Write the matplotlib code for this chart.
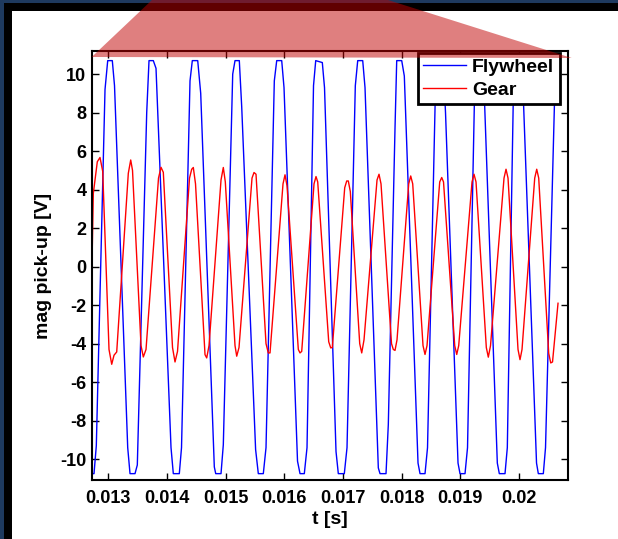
import matplotlib
matplotlib.use('Agg')
import matplotlib.pyplot as plt
from matplotlib.patches import Rectangle, Polygon
import numpy as np

plt.rcParams['font.family'] = ['Liberation Sans', 'DejaVu Sans']
plt.rcParams['font.weight'] = 'bold'
plt.rcParams['axes.unicode_minus'] = False

# flywheel pick-up (clipped), vertex times in ms and volts
fly_t_ms = [12.7051, 12.7563, 12.7955, 12.9438, 12.9898, 13.0682, 13.1057, 13.3307,
            13.3699, 13.4551, 13.4943, 13.6545, 13.6937, 13.7670, 13.8130, 14.0687,
            14.1079, 14.2102, 14.2477, 14.3925, 14.4317, 14.5238, 14.5749, 14.8067,
            14.8306, 14.9209, 14.9601, 15.1203, 15.1595, 15.2328, 15.2737, 15.5106,
            15.5567, 15.6419, 15.6879, 15.8294, 15.8703, 15.9555, 15.9947, 16.2248,
            16.2674, 16.3407, 16.3867, 16.4975, 16.5350, 16.6475, 16.6850, 16.8810,
            16.9202, 17.0225, 17.0685, 17.2100, 17.2509, 17.3361, 17.3753, 17.6020,
            17.6310, 17.7332, 17.7724, 17.8866, 17.9156, 18.0009, 18.0452, 18.2787,
            18.3128, 18.3980, 18.4406, 18.5770, 18.6111, 18.7048, 18.7474, 18.9605,
            18.9945, 19.0798, 19.1224, 19.2451, 19.2758, 19.3780, 19.4155, 19.6303,
            19.6644, 19.7615, 19.8007, 19.9064, 19.9405, 20.0428, 20.0769, 20.2985,
            20.3292, 20.4144, 20.4519, 20.6053, 20.6394]
fly_v = [-10.75, -10.75, -9.3, 9.2, 10.7, 10.7, 9.4, -9.4,
         -10.75, -10.75, -10.3, 8.0, 10.7, 10.7, 10.3, -9.4,
         -10.75, -10.75, -9.4, 9.65, 10.7, 10.7, 9.0, -10.4,
         -10.75, -10.75, -9.25, 10.0, 10.7, 10.7, 8.3, -9.5,
         -10.75, -10.75, -9.4, 9.65, 10.7, 10.7, 9.3, -10.1,
         -10.75, -10.75, -9.4, 9.4, 10.7, 10.6, 9.3, -9.6,
         -10.75, -10.75, -9.4, 9.4, 10.7, 10.7, 9.3, -10.45,
         -10.75, -10.75, -8.2, 7.2, 10.7, 10.7, 9.9, -10.2,
         -10.75, -10.75, -9.4, 9.4, 10.7, 10.7, 8.0, -10.2,
         -10.75, -10.75, -9.4, 9.4, 10.7, 10.7, 8.3, -10.2,
         -10.75, -10.75, -9.4, 9.4, 10.7, 10.7, 8.5, -10.2,
         -10.75, -10.75, -9.4, 8.6, 10.7]

# gear tooth pick-up
gear_t_ms = [12.7222, 12.7443, 12.8125, 12.8585, 12.9046, 13.0119, 13.0580, 13.0972,
             13.1432, 13.3409, 13.3818, 13.4125, 13.5574, 13.5966, 13.6426, 13.8556,
             13.8983, 13.9375, 14.0943, 14.1369, 14.1795, 14.3840, 14.4215, 14.4488,
             14.4863, 14.6482, 14.6772, 14.7164, 14.9209, 14.9601, 14.9942, 15.1595,
             15.1885, 15.2277, 15.4493, 15.4834, 15.5175, 15.6879, 15.7271, 15.7561,
             15.9777, 16.0118, 16.0459, 16.2385, 16.2674, 16.2964, 16.5061, 16.5401,
             16.5691, 16.7566, 16.7907, 16.8180, 17.0293, 17.0634, 17.0907, 17.1248,
             17.2850, 17.3191, 17.3583, 17.5799, 17.6139, 17.6480, 17.8270, 17.8577,
             17.8866, 17.9207, 18.1202, 18.1542, 18.1883, 18.3639, 18.3980, 18.4321,
             18.6485, 18.6826, 18.7133, 18.9042, 18.9383, 18.9724, 19.1991, 19.2332,
             19.2673, 19.4428, 19.4769, 19.5144, 19.7445, 19.7786, 19.8127, 19.9831,
             20.0172, 20.0513, 20.2678, 20.3019, 20.3359, 20.5064, 20.5405, 20.5712,
             20.6650]
gear_v = [0.2, 3.8, 5.45, 5.67, 4.95, -4.3, -5.07, -4.6,
          -4.43, 4.85, 5.54, 5.0, -4.1, -4.69, -4.3, 4.6,
          5.16, 4.9, -4.2, -4.95, -4.4, 4.6, 5.06, 5.15,
          4.3, -4.57, -4.74, -4.1, 4.5, 5.15, 4.4, -4.1,
          -4.65, -4.2, 4.6, 4.89, 4.8, -4.0, -4.48, -4.48,
          4.3, 4.77, 4.2, -4.3, -4.48, -4.4, 4.3, 4.68,
          4.4, -3.9, -4.22, -4.2, 4.1, 4.45, 4.45, 3.9,
          -4.0, -4.48, -3.8, 4.5, 4.8, 4.3, -4.0, -4.3,
          -4.35, -3.8, 4.3, 4.71, 4.3, -4.1, -4.56, -4.1,
          4.4, 4.63, 4.4, -4.1, -4.56, -4.1, 4.4, 4.8,
          4.4, -4.2, -4.7, -4.1, 4.6, 5.06, 4.6, -4.3,
          -4.83, -4.3, 4.6, 5.06, 4.6, -4.5, -5.0, -4.95,
          -1.9]

xticks = [0.013, 0.014, 0.015, 0.016, 0.017, 0.018, 0.019, 0.020]
xtick_labels = ['0.013', '0.014', '0.015', '0.016', '0.017', '0.018', '0.019', '0.02']
yticks = [-10, -8, -6, -4, -2, 0, 2, 4, 6, 8, 10]

W, H = 618, 539
fig = plt.figure(figsize=(W / 100, H / 100), dpi=100)
fig.patch.set_facecolor('#1e3a5f')

# slide frame: black border and white panel
fig.add_artist(Rectangle((4 / W, 0), 1, 1 - 3 / H, transform=fig.transFigure,
                         facecolor='black', edgecolor='none', zorder=-2))
fig.add_artist(Rectangle((12 / W, 0), 1, 1 - 11 / H, transform=fig.transFigure,
                         facecolor='white', edgecolor='none', zorder=-1))

ax = fig.add_axes([92 / W, 1 - 480 / H, 476 / W, 429 / H])
ax.plot(np.array(fly_t_ms) / 1000, fly_v, color='#0000ff', lw=1.0, label='Flywheel')
ax.plot(np.array(gear_t_ms) / 1000, gear_v, color='#ff0000', lw=1.0, label='Gear')

ax.set_xlim(0.012722, 0.020835)
ax.set_ylim(-11.08, 11.2)
ax.set_xticks(xticks)
ax.set_xticklabels(xtick_labels)
ax.set_yticks(yticks)
ax.tick_params(direction='in', length=5, width=1, top=True, right=True,
               labelsize=13, colors='black')
ax.tick_params(axis='x', pad=7)
ax.tick_params(axis='y', pad=4)
for s in ax.spines.values():
    s.set_linewidth(1.5)

ax.set_xlabel('t [s]', fontsize=14, fontweight='bold', labelpad=3)
ax.set_ylabel('mag pick-up [V]', fontsize=14, fontweight='bold', labelpad=6)

leg = ax.legend(loc='upper right', bbox_to_anchor=(0.983, 0.996), borderaxespad=0,
                fancybox=False, framealpha=1, edgecolor='black',
                prop={'size': 14, 'weight': 'bold'}, handlelength=2.2,
                handletextpad=0.3, labelspacing=0.25, borderpad=0.3)
leg.get_frame().set_linewidth(2)

# translucent red wedge over the top of the plot
wedge = [(91.7, 57), (571.7, 58), (388, 0), (152, 0)]
fig.add_artist(Polygon([(x / W, 1 - y / H) for x, y in wedge], closed=True,
                       transform=fig.transFigure, facecolor='#c00000',
                       edgecolor='none', alpha=0.5, zorder=10))

fig.savefig('out.png', dpi=100, facecolor=fig.get_facecolor())
